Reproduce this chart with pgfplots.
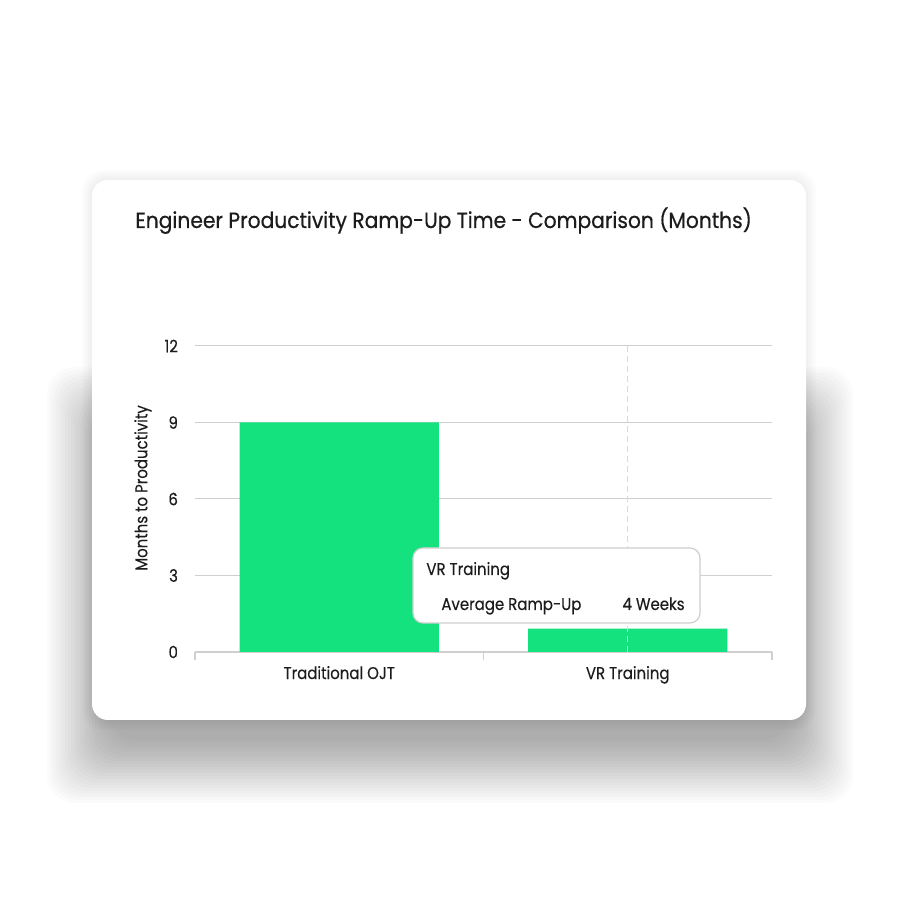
\documentclass[border=0pt]{standalone}
\usepackage{pgfplots}
\pgfplotsset{compat=1.18}
\usepackage{fontspec}
\setmainfont[FakeStretch=0.88, FakeBold=0.25]{Poppins}
\newfontfamily\titlefont[FakeStretch=0.92, FakeBold=0.5]{Poppins}
\definecolor{barGreen}{HTML}{14E27F}
\definecolor{gridGray}{HTML}{CFCFCF}
\definecolor{inkDark}{HTML}{1C1C1C}
\begin{document}
\begin{tikzpicture}[x=0.5pt,y=0.5pt]
\path[use as bounding box] (0,0) rectangle (900,900);
\fill[white] (0,0) rectangle (900,900);
% soft shadow under the card
\foreach \i in {0,...,21} {
  \fill[black, opacity=0.016, rounded corners=14pt]
    (110-3*\i,160-3*\i) rectangle (790+3*\i,470+3*\i);
}
\foreach \i in {0,...,5} {
  \fill[black, opacity=0.01, rounded corners=10pt]
    (92-2*\i,180-2*\i) rectangle (806+2*\i,720+2*\i);
}
% card
\fill[white, rounded corners=8pt] (92,180) rectangle (806,720);
\node[anchor=base west, inner sep=0, text=inkDark,
      font=\titlefont\fontsize{11}{13}\selectfont] at (135,672)
  {Engineer Productivity Ramp-Up Time - Comparison (Months)};
\node[rotate=90, inner sep=0, text=inkDark,
      font=\fontsize{8.5}{10}\selectfont] at (143,412) {Months to Productivity};
\coordinate (axorigin) at (195,248);

\begin{axis}[
    at={(axorigin)}, anchor=south west,
    scale only axis, width=288.5pt, height=153pt,
    xmin=-0.5, xmax=1.5, ymin=0, ymax=12,
    ytick={0,3,6,9,12},
    xtick={0,1},
    xticklabels={Traditional OJT, VR Training},
    minor xtick={-0.5,0.5,1.5},
    axis x line*=bottom, axis y line*=left,
    y axis line style={draw=none},
    x axis line style={gridGray, line width=0.6pt},
    ymajorgrids,
    grid style={gridGray, line width=0.5pt},
    major tick length=0pt, minor tick length=4pt,
    tick align=outside,
    minor tick style={gridGray, line width=0.6pt},
    ticklabel style={text=inkDark, font=\fontsize{8.5}{10}\selectfont},
    yticklabel style={xshift=-5pt},
    xticklabel style={yshift=-3.5pt},
    /pgf/number format/assume math mode=true,
  ]
\addplot[ybar, bar width=0.69, fill=barGreen, draw=none]
  coordinates {(0,9) (1,0.92)};
\draw[gray!30, dash pattern=on 3pt off 2pt, line width=0.5pt]
  (axis cs:1,0) -- (axis cs:1,12);
\end{axis}

% hover tooltip
\draw[gridGray, fill=white, rounded corners=5pt, line width=0.6pt]
  (413,277) rectangle (700,352);
\begin{scope}[every node/.style={inner sep=0, text=inkDark,
      font=\fontsize{8.5}{10}\selectfont}]
\node[anchor=base west] at (426,325) {VR Training};
\node[anchor=base west] at (441,290) {Average Ramp-Up};
\node[anchor=base east] at (685,290) {4 Weeks};
\end{scope}
\end{tikzpicture}
\end{document}
